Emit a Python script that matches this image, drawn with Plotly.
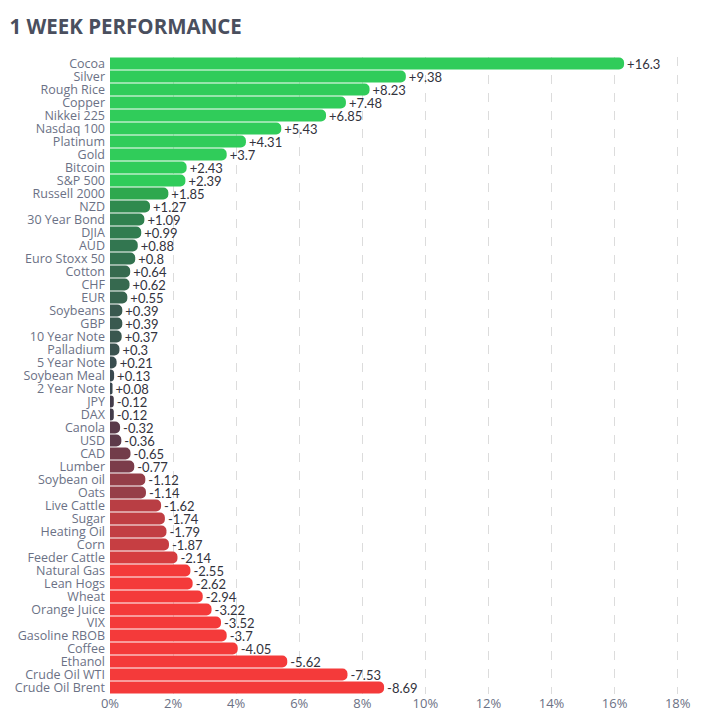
import plotly.graph_objects as go

names = ["Cocoa", "Silver", "Rough Rice", "Copper", "Nikkei 225", "Nasdaq 100", "Platinum", "Gold",
         "Bitcoin", "S&P 500", "Russell 2000", "NZD", "30 Year Bond", "DJIA", "AUD", "Euro Stoxx 50",
         "Cotton", "CHF", "EUR", "Soybeans", "GBP", "10 Year Note", "Palladium", "5 Year Note",
         "Soybean Meal", "2 Year Note", "JPY", "DAX", "Canola", "USD", "CAD", "Lumber", "Soybean oil",
         "Oats", "Live Cattle", "Sugar", "Heating Oil", "Corn", "Feeder Cattle", "Natural Gas",
         "Lean Hogs", "Wheat", "Orange Juice", "VIX", "Gasoline RBOB", "Coffee", "Ethanol",
         "Crude Oil WTI", "Crude Oil Brent"]
values = [16.3, 9.38, 8.23, 7.48, 6.85, 5.43, 4.31, 3.7, 2.43, 2.39, 1.85, 1.27, 1.09, 0.99, 0.88,
          0.8, 0.64, 0.62, 0.55, 0.39, 0.39, 0.37, 0.3, 0.21, 0.13, 0.08, -0.12, -0.12, -0.32, -0.36,
          -0.65, -0.77, -1.12, -1.14, -1.62, -1.74, -1.79, -1.87, -2.14, -2.55, -2.62, -2.94, -3.22,
          -3.52, -3.7, -4.05, -5.62, -7.53, -8.69]
x_ticks = [0, 2, 4, 6, 8, 10, 12, 14, 16, 18]

# colour stops (value -> colour)
stops = [(-2.5, "#f43a3a"), (-2.14, "#d53d40"), (-1.6, "#b83e44"), (-1.1, "#933e48"),
         (-0.7, "#763c4a"), (-0.34, "#5c3a4a"), (-0.12, "#433c4a"), (0.0, "#3a4450"),
         (0.13, "#39494f"), (0.35, "#3a564f"), (0.62, "#36694f"), (0.95, "#317a50"),
         (1.27, "#2f8a4e"), (1.85, "#2ea84e"), (2.35, "#30cc5a")]


def hex2rgb(h):
    h = h.lstrip("#")
    return tuple(int(h[i:i + 2], 16) for i in (0, 2, 4))


def colour(v):
    if v <= stops[0][0]:
        return stops[0][1]
    if v >= stops[-1][0]:
        return stops[-1][1]
    for (a, ca), (b, cb) in zip(stops, stops[1:]):
        if a <= v <= b:
            t = (v - a) / (b - a) if b > a else 0
            r1, g1, b1 = hex2rgb(ca)
            r2, g2, b2 = hex2rgb(cb)
            return "rgb(%d,%d,%d)" % (round(r1 + (r2 - r1) * t), round(g1 + (g2 - g1) * t),
                                      round(b1 + (b2 - b1) * t))


mags = [abs(v) for v in values]
cols = [colour(v) for v in values]
labels = [("+" if v > 0 else "") + ("%g" % v) for v in values]

fig = go.Figure()
fig.add_trace(go.Bar(y=names, x=mags, orientation="h",
                     marker=dict(color=cols, cornerradius=5, line=dict(width=0)),
                     text=labels, textposition="outside", constraintext="none", cliponaxis=False,
                     textfont=dict(family="Lato", size=13, color="#33333d"),
                     showlegend=False))

fig.update_layout(
    width=724, height=727,
    bargap=0.08,
    paper_bgcolor="white", plot_bgcolor="white",
    margin=dict(l=110, r=40, t=57, b=33),
    title=dict(text="<b>1 WEEK PERFORMANCE</b>", x=0.013, xanchor="left", y=0.963, yanchor="middle",
               font=dict(family="Open Sans", size=20.5, color="#4a4f5e")),
    font=dict(family="Open Sans", size=12, color="#6b7185"),
)
fig.update_xaxes(range=[0, 18.2], tickvals=x_ticks, ticktext=["%d%%" % t for t in x_ticks],
                 showgrid=True, gridcolor="#dcdcdc", griddash="dash", gridwidth=1,
                 zeroline=False, showline=False, ticks="",
                 tickfont=dict(family="Open Sans", size=13, color="#6b7185"))
fig.update_yaxes(autorange="reversed", tickmode="array", tickvals=names, ticktext=names,
                 showgrid=False, zeroline=False, showline=False, ticks="",
                 ticklabelstandoff=4,
                 tickfont=dict(family="Open Sans", size=12.5, color="#6b7185"))

fig.write_html("out.html")
